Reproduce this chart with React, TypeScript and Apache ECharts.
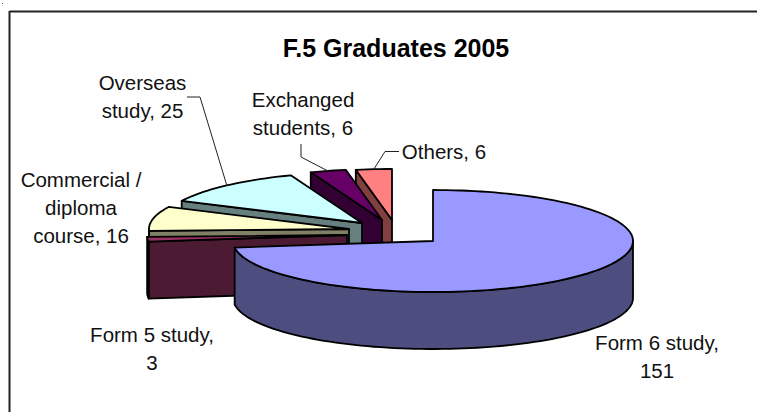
import React, { useEffect, useRef } from "react";
import * as echarts from "echarts";

const categories = ["Form 6 study", "Form 5 study", "Commercial / diploma course", "Overseas study", "Exchanged students", "Others"];
const values = [151, 3, 16, 25, 6, 6];
const titleText = "F.5 Graduates 2005";

// Layout only: where each exploded slice's tip sits, and how each label breaks.
const tips = [[433, 241], [347, 235], [349, 229], [362, 223], [382, 220], [392, 220]];
const topColors = ["#9999FF", "#993366", "#FFFFCC", "#CCFFFF", "#660066", "#FF8080"];
const sideColors = ["#4D4D80", "#4D1A33", "#808066", "#668080", "#330033", "#804040"];
const labelBreaks = [",\n", ",\n", ", ", ", ", ", ", ", "];
const labelWraps = [
  (s: string) => s,
  (s: string) => s,
  (s: string) => s.replace("Commercial / diploma course", "Commercial /\ndiploma\ncourse"),
  (s: string) => s.replace("Overseas study", "Overseas\nstudy"),
  (s: string) => s.replace("Exchanged students", "Exchanged\nstudents"),
  (s: string) => s,
];
const labelCenters = [[657, 356], [152, 348], [81, 207], [142.5, 96.5], [303, 113], [444, 151]];
const leaders: number[][][] = [
  [], [], [],
  [[187, 97], [200, 97], [227, 186]],
  [[301, 144], [301, 157], [328, 171]],
  [[399, 151.5], [385, 151.5], [374, 169]],
];

const RX = 200;
const RY = 51;
const DEPTH = 57;
const FONT = "Liberation Sans, Arial, sans-serif";
const total = values.reduce((a, b) => a + b, 0);

let running = 0;
const rows = values.map((v, i) => {
  const start = (running / total) * 360;
  running += v;
  return [v, start, (running / total) * 360, i];
});
const backToFront = [...rows].reverse();

function rimPoint(tip: number[], deg: number, dy = 0) {
  const t = (deg * Math.PI) / 180;
  return [tip[0] + RX * Math.sin(t), tip[1] - RY * Math.cos(t) + dy];
}
function arc(tip: number[], a: number, b: number, dy = 0) {
  const n = Math.max(2, Math.ceil(Math.abs(b - a) / 2));
  const pts: number[][] = [];
  for (let k = 0; k <= n; k++) pts.push(rimPoint(tip, a + ((b - a) * k) / n, dy));
  return pts;
}

function renderSlice(_: unknown, api: any) {
  const v = api.value(0);
  const a0 = api.value(1);
  const a1 = api.value(2);
  const i = api.value(3);
  const tip = tips[i];
  const edge = { stroke: "#000", lineWidth: 1.8, lineJoin: "round" };
  const children: any[] = [];

  if (a0 > 180) {
    const p = rimPoint(tip, a0);
    children.push({
      type: "polygon",
      shape: { points: [tip, p, [p[0], p[1] + DEPTH], [tip[0], tip[1] + DEPTH]] },
      style: { fill: sideColors[i], ...edge },
    });
  }
  const wa = Math.max(a0, 90);
  const wb = Math.min(a1, 270);
  if (wb > wa) {
    children.push({
      type: "polygon",
      shape: { points: [...arc(tip, wa, wb), ...arc(tip, wb, wa, DEPTH)] },
      style: { fill: sideColors[i], ...edge },
    });
  }
  children.push({
    type: "polygon",
    shape: { points: [tip, ...arc(tip, a0, a1)] },
    style: { fill: topColors[i], ...edge },
  });
  if (leaders[i].length) {
    children.push({
      type: "polyline",
      shape: { points: leaders[i] },
      style: { fill: "none", stroke: "#222", lineWidth: 1 },
    });
  }
  children.push({
    type: "text",
    x: labelCenters[i][0],
    y: labelCenters[i][1],
    style: {
      text: `${labelWraps[i](categories[i])}${labelBreaks[i]}${v}`,
      font: `20.5px ${FONT}`,
      lineHeight: 28,
      fill: "#111",
      align: "center",
      verticalAlign: "middle",
    },
  });
  return { type: "group", children };
}

export default function App() {
  const ref = useRef<HTMLDivElement>(null);
  useEffect(() => {
    document.body.style.margin = "0";
    const chart = echarts.init(ref.current!, undefined, { renderer: "svg" });
    chart.setOption({
      animation: false,
      backgroundColor: "#fff",
      title: {
        text: titleText,
        left: 391,
        top: 30,
        textAlign: "center",
        textStyle: { fontFamily: FONT, fontSize: 25, fontWeight: "bold", color: "#000" },
      },
      graphic: [
        { type: "line", shape: { x1: 9.5, y1: 11.5, x2: 757, y2: 11.5 }, style: { stroke: "#222", lineWidth: 2 } },
        { type: "line", shape: { x1: 9.5, y1: 11, x2: 9.5, y2: 412 }, style: { stroke: "#222", lineWidth: 2 } },
        { type: "rect", shape: { x: 2, y: 3, width: 1, height: 1 }, style: { fill: "#444" } },
      ],
      series: [
        {
          type: "custom",
          coordinateSystem: "none",
          silent: true,
          clip: false,
          data: backToFront,
          renderItem: renderSlice,
        },
      ],
    });
    return () => chart.dispose();
  }, []);
  return <div ref={ref} style={{ position: "absolute", left: 0, top: 0, width: 757, height: 412 }} />;
}
